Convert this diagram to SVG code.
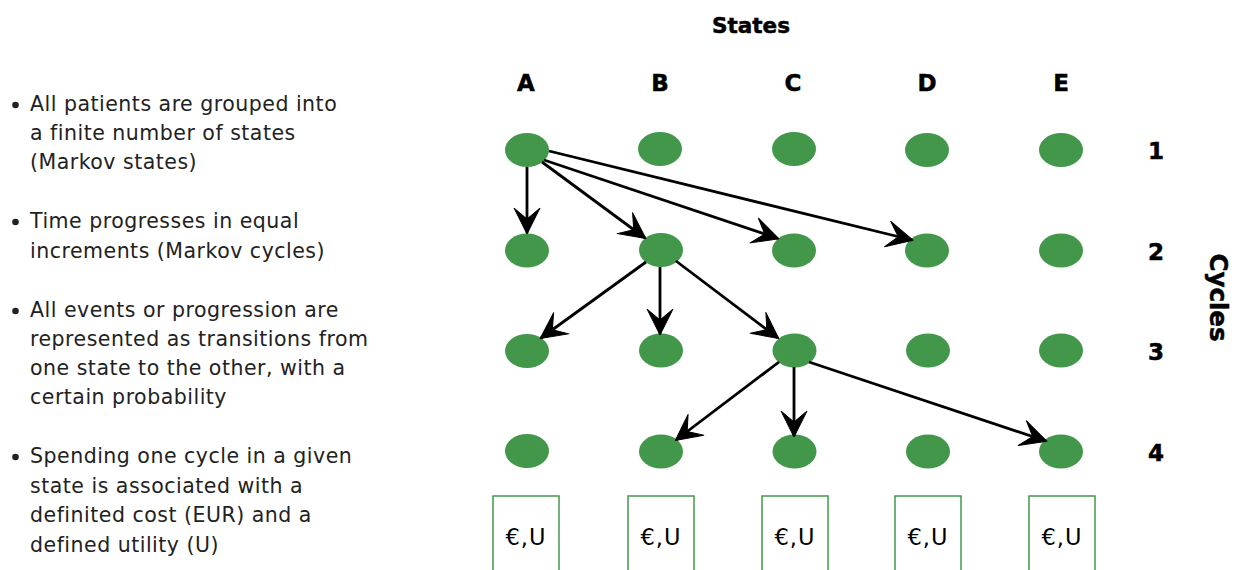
<svg xmlns="http://www.w3.org/2000/svg" width="1240" height="570" viewBox="0 0 1240 570">
  <style>
    .note { font-family: "DejaVu Sans", Verdana, sans-serif; font-size: 20.5px; letter-spacing: 0.5px; fill: #222; }
    .hdr { font-family: "DejaVu Sans", Verdana, sans-serif; font-size: 23px; font-weight: bold; fill: #000; stroke: #000; stroke-width: 0.5px; text-anchor: middle; }
    .state { fill: #43974a; }
    .box { fill: #fff; stroke: #43974a; stroke-width: 1.5; }
    .cost { font-family: "DejaVu Sans", Verdana, sans-serif; font-size: 22.5px; letter-spacing: 1px; fill: #000; text-anchor: middle; }
    .edge { stroke: #000; stroke-width: 2.8; fill: none; marker-end: url(#arrow); }
  </style>
  <defs>
    <marker id="arrow" markerUnits="userSpaceOnUse" viewBox="-28 -16 32 32" refX="0" refY="0" markerWidth="32" markerHeight="32" orient="auto">
      <path d="M1,0 L-25,-13 L-14,0 L-25,13 Z" fill="#000" stroke="#000" stroke-width="1" stroke-linejoin="round"/>
    </marker>
  </defs>

  <!-- explanatory bullets -->
  <g id="notes">
    <circle cx="15.5" cy="105" r="3.3" fill="#222"/>
    <text class="note" x="30" y="111">All patients are grouped into</text>
    <text class="note" x="30" y="140">a finite number of states</text>
    <text class="note" x="30" y="169">(Markov states)</text>
    <circle cx="15.5" cy="222" r="3.3" fill="#222"/>
    <text class="note" x="30" y="228">Time progresses in equal</text>
    <text class="note" x="30" y="258">increments (Markov cycles)</text>
    <circle cx="15.5" cy="311" r="3.3" fill="#222"/>
    <text class="note" x="30" y="317">All events or progression are</text>
    <text class="note" x="30" y="346">represented as transitions from</text>
    <text class="note" x="30" y="375">one state to the other, with a</text>
    <text class="note" x="30" y="404">certain probability</text>
    <circle cx="15.5" cy="457" r="3.3" fill="#222"/>
    <text class="note" x="30" y="463">Spending one cycle in a given</text>
    <text class="note" x="30" y="493">state is associated with a</text>
    <text class="note" x="30" y="522">definited cost (EUR) and a</text>
    <text class="note" x="30" y="552">defined utility (U)</text>
  </g>

  <!-- axis headings -->
  <g id="headings">
    <text class="hdr" x="751" y="33" style="font-size:21.5px">States</text>
    <text class="hdr" x="526" y="91">A</text>
    <text class="hdr" x="660" y="91">B</text>
    <text class="hdr" x="793" y="91">C</text>
    <text class="hdr" x="927" y="91">D</text>
    <text class="hdr" x="1061" y="91">E</text>
    <text class="hdr" x="1156" y="159">1</text>
    <text class="hdr" x="1156" y="260">2</text>
    <text class="hdr" x="1156" y="360">3</text>
    <text class="hdr" x="1156" y="461">4</text>
    <text class="hdr" transform="translate(1219,297.5) rotate(90)" x="0" y="9" style="font-size:24.5px">Cycles</text>
  </g>

  <!-- state nodes: columns A–E, cycles 1–4 -->
  <g id="A1"><ellipse class="state" cx="527" cy="150" rx="22" ry="17"/></g>
  <g id="B1"><ellipse class="state" cx="660" cy="149" rx="22" ry="17"/></g>
  <g id="C1"><ellipse class="state" cx="794" cy="149" rx="22" ry="17"/></g>
  <g id="D1"><ellipse class="state" cx="927" cy="150" rx="22" ry="17"/></g>
  <g id="E1"><ellipse class="state" cx="1061" cy="150" rx="22" ry="17"/></g>

  <g id="A2"><ellipse class="state" cx="527" cy="250.5" rx="22" ry="17"/></g>
  <g id="B2"><ellipse class="state" cx="661" cy="250" rx="22" ry="17"/></g>
  <g id="C2"><ellipse class="state" cx="794" cy="250.5" rx="22" ry="17"/></g>
  <g id="D2"><ellipse class="state" cx="927" cy="250.5" rx="22" ry="17"/></g>
  <g id="E2"><ellipse class="state" cx="1061" cy="250.5" rx="22" ry="17"/></g>

  <g id="A3"><ellipse class="state" cx="527" cy="351" rx="22" ry="17"/></g>
  <g id="B3"><ellipse class="state" cx="661" cy="350.5" rx="22" ry="17"/></g>
  <g id="C3"><ellipse class="state" cx="794.5" cy="350.5" rx="22" ry="17"/></g>
  <g id="D3"><ellipse class="state" cx="928" cy="350.5" rx="22" ry="17"/></g>
  <g id="E3"><ellipse class="state" cx="1061" cy="350.5" rx="22" ry="17"/></g>

  <g id="A4"><ellipse class="state" cx="527" cy="451" rx="22" ry="17"/></g>
  <g id="B4"><ellipse class="state" cx="661" cy="451.5" rx="22" ry="17"/></g>
  <g id="C4"><ellipse class="state" cx="794.5" cy="451.5" rx="22" ry="17"/></g>
  <g id="D4"><ellipse class="state" cx="928" cy="451.5" rx="22" ry="17"/></g>
  <g id="E4"><ellipse class="state" cx="1061" cy="451.5" rx="22" ry="17"/></g>

  <!-- cost / utility per state -->
  <g id="costA"><rect class="box" x="493" y="496" width="66" height="80"/><text class="cost" x="526" y="545">€,U</text></g>
  <g id="costB"><rect class="box" x="628" y="496" width="66" height="80"/><text class="cost" x="661" y="545">€,U</text></g>
  <g id="costC"><rect class="box" x="762" y="496" width="66" height="80"/><text class="cost" x="795" y="545">€,U</text></g>
  <g id="costD"><rect class="box" x="895" y="496" width="66" height="80"/><text class="cost" x="928" y="545">€,U</text></g>
  <g id="costE"><rect class="box" x="1029" y="496" width="66" height="80"/><text class="cost" x="1062" y="545">€,U</text></g>

  <!-- transitions -->
  <g id="connectors">
    <line class="edge" x1="527" y1="167" x2="527" y2="233"/>
    <line class="edge" x1="542" y1="162" x2="645" y2="238"/>
    <line class="edge" x1="544" y1="160" x2="778" y2="238.5"/>
    <line class="edge" x1="549" y1="151" x2="912" y2="240"/>
    <line class="edge" x1="646" y1="262" x2="541" y2="338"/>
    <line class="edge" x1="660" y1="267" x2="660" y2="334"/>
    <line class="edge" x1="676" y1="261" x2="778" y2="338"/>
    <line class="edge" x1="779" y1="362" x2="676" y2="440"/>
    <line class="edge" x1="794" y1="367" x2="794" y2="436"/>
    <line class="edge" x1="809" y1="362" x2="1046" y2="441"/>
  </g>
</svg>
